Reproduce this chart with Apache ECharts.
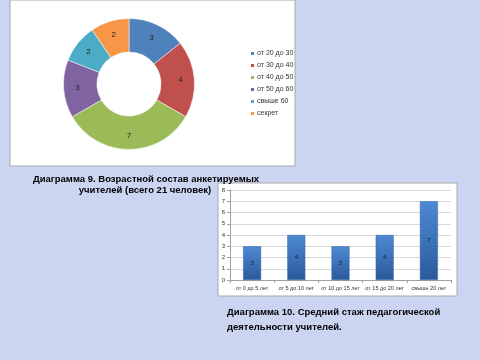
<!DOCTYPE html>
<html><head><meta charset="utf-8">
<script src="https://cdn.jsdelivr.net/npm/echarts@6/dist/echarts.min.js"></script>
<style>html,body{margin:0;padding:0;background:#CBD5F1;}#c{width:480px;height:360px;}</style>
</head><body><div id="c"></div>
<script>
var pieCategories = ['от 20 до 30','от 30 до 40','от 40 до 50','от 50 до 60','свыше 60','секрет'];
var pieValues = [3,4,7,3,2,2];
var pieColors = ['#4F81BD','#C0504D','#9BBB59','#8064A2','#4BACC6','#F79646'];
var barCategories = ['от 0 до 5 лет','от 5 до 10 лет','от 10 до 15 лет','от 15 до 20 лет','свыше 20 лет'];
var barValues = [3,4,3,4,7];
var yTicks = [0,1,2,3,4,5,6,7,8];
var caption1 = ['Диаграмма 9. Возрастной состав анкетируемых','учителей (всего 21 человек)'];
var caption2 = ['Диаграмма 10. Средний стаж педагогической','деятельности учителей.'];

var chart = echarts.init(document.getElementById('c'), null, {renderer:'canvas'});
var font = 'Liberation Sans, Arial, sans-serif';
chart.setOption({
  backgroundColor: '#CBD5F1',
  animation: false,
  textStyle: {fontFamily: font},
  graphic: [
    {type:'rect', z:-10, shape:{x:10,y:0,width:285,height:166}, style:{fill:'#fff', stroke:'#A8A8A8', lineWidth:1}},
    {type:'rect', z:-10, shape:{x:218,y:183,width:239,height:113}, style:{fill:'#fff', stroke:'#A8A8A8', lineWidth:1}},
    {type:'text', z:10, x:146, y:174, style:{text:caption1[0], textAlign:'center', font:'bold 9.5px '+font, fill:'#000'}},
    {type:'text', z:10, x:145, y:185, style:{text:caption1[1], textAlign:'center', font:'bold 9.5px '+font, fill:'#000'}},
    {type:'text', z:10, x:227, y:307, style:{text:caption2[0], textAlign:'left', font:'bold 9.5px '+font, fill:'#000'}},
    {type:'text', z:10, x:227, y:322, style:{text:caption2[1], textAlign:'left', font:'bold 9.5px '+font, fill:'#000'}}
  ],
  legend: {
    orient:'vertical', left:249, top:50, padding:0,
    itemWidth:5, itemHeight:5, itemGap:5,
    icon:'rect',
    data: pieCategories,
    textStyle:{fontSize:7, color:'#333', padding:[0,0,0,-3]}
  },
  grid: {left:230, right:29, top:190, bottom:80},
  xAxis: {
    type:'category', data: barCategories,
    axisLine:{lineStyle:{color:'#A0A0A0'}},
    axisTick:{show:true, length:3, lineStyle:{color:'#A0A0A0'}},
    axisLabel:{fontSize:5.5, color:'#333', margin:5, interval:0}
  },
  yAxis: {
    type:'value', min:yTicks[0], max:yTicks[yTicks.length-1], interval:1,
    axisLine:{show:true, lineStyle:{color:'#A0A0A0'}},
    axisTick:{show:true, length:3, lineStyle:{color:'#A0A0A0'}},
    axisLabel:{fontSize:6, color:'#333', margin:5},
    splitLine:{lineStyle:{color:'#D9D9D9', width:1}}
  },
  series: [
    {
      type:'pie', center:[129,84], radius:[32,65.5], startAngle:90, clockwise:true,
      data: pieCategories.map(function(n,i){return {name:n, value:pieValues[i], itemStyle:{color:pieColors[i]}};}),
      itemStyle:{borderColor:'#ffffff', borderWidth:0.5},
      label:{show:true, position:'inside', formatter:'{c}', fontSize:8, color:'#222'},
      labelLine:{show:false}
    },
    {
      type:'bar', data: barValues, barWidth:18,
      itemStyle:{
        color:new echarts.graphic.LinearGradient(0,0,0,1,[{offset:0,color:'#4E89D3'},{offset:1,color:'#2B5A9B'}]),
        borderColor:'#3567A8', borderWidth:0.5
      },
      label:{show:true, position:'inside', fontSize:6, color:'#1a1a1a'}
    }
  ]
});
</script></body></html>
